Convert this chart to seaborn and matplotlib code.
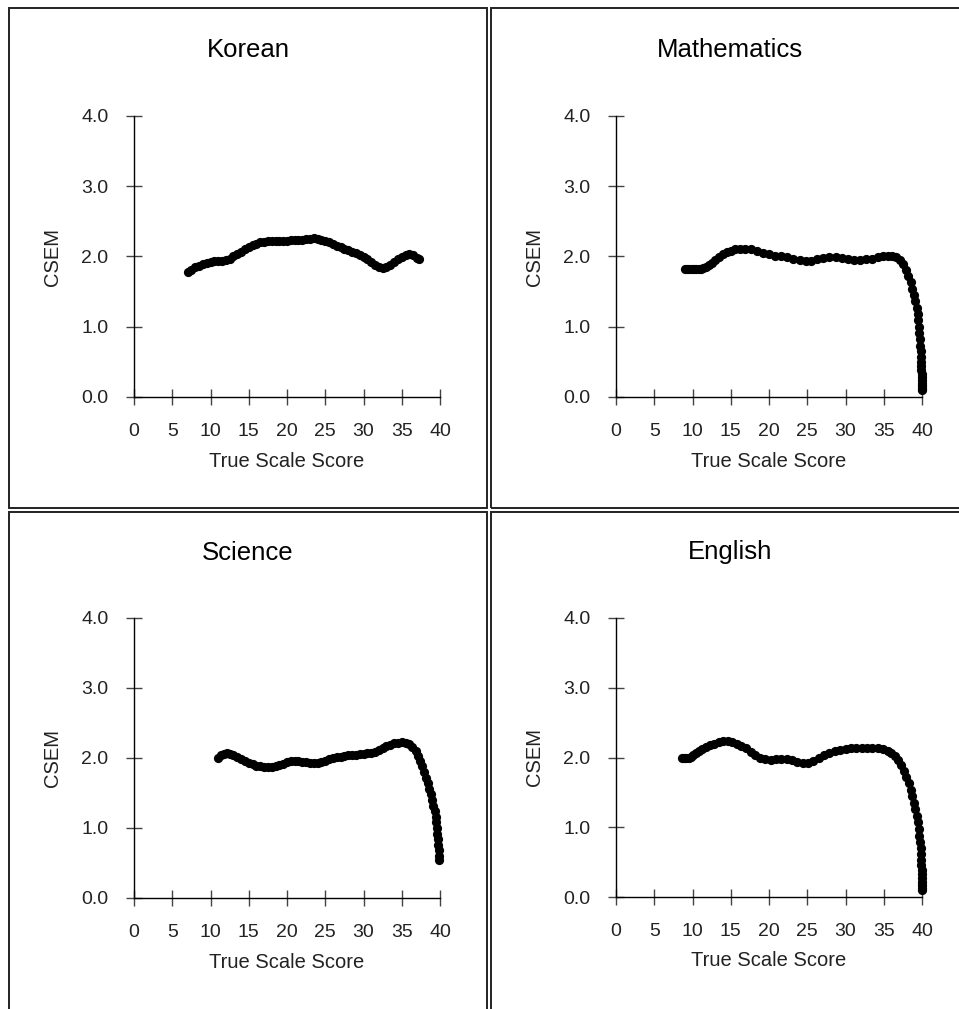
import pandas as pd
import numpy as np
import matplotlib
matplotlib.use("Agg")
import matplotlib.pyplot as plt
from matplotlib.patches import Rectangle
import seaborn as sns

# CSEM curves
korean_x = [7.0, 7.5, 8.0, 8.5, 9.0, 9.5, 10.0, 10.5, 11.0, 11.5, 12.0, 12.5, 13.0, 13.5,
            14.0, 14.5, 15.0, 15.5, 16.0, 16.5, 17.0, 17.5, 18.0, 18.5, 19.0, 19.5, 20.0,
            20.5, 21.0, 21.5, 22.0, 22.5, 23.0, 23.5, 24.0, 24.5, 25.0, 25.5, 26.0, 26.5,
            27.0, 27.5, 28.0, 28.5, 29.0, 29.5, 30.0, 30.5, 31.0, 31.5, 32.0, 32.5, 33.0,
            33.5, 34.0, 34.5, 35.0, 35.5, 36.0, 36.5, 37.0, 37.2]
korean_y = [1.78, 1.81, 1.85, 1.87, 1.89, 1.91, 1.92, 1.93, 1.93, 1.94, 1.95, 1.97, 2.00, 2.03,
            2.07, 2.10, 2.13, 2.16, 2.18, 2.20, 2.21, 2.22, 2.22, 2.22, 2.22, 2.22, 2.22,
            2.23, 2.23, 2.23, 2.24, 2.25, 2.25, 2.26, 2.25, 2.24, 2.22, 2.20, 2.18, 2.15,
            2.13, 2.11, 2.09, 2.07, 2.05, 2.02, 1.99, 1.96, 1.92, 1.88, 1.85, 1.84, 1.85,
            1.88, 1.92, 1.96, 1.99, 2.02, 2.03, 2.02, 1.98, 1.96]

math_x = [9.0, 9.3, 9.6, 9.9, 10.2, 10.5, 10.8, 11.1, 11.4, 11.8, 12.2, 12.6, 13.0, 13.5,
          14.0, 14.5, 15.0, 15.6, 16.2, 16.9, 17.6, 18.4, 19.2, 20.0, 20.8, 21.6, 22.4,
          23.2, 24.0, 24.8, 25.5, 26.3, 27.1, 27.9, 28.7, 29.5, 30.3, 31.1, 31.9, 32.7,
          33.5, 34.2, 34.9, 35.5, 36.1, 36.6, 37.1, 37.5, 37.9, 38.2, 38.5, 38.75, 38.95,
          39.15, 39.3, 39.42, 39.52, 39.6, 39.67, 39.73, 39.78, 39.83, 39.86, 39.89, 39.91,
          39.93, 39.95, 39.96, 39.97, 39.98, 39.985, 39.99, 39.995, 40.0]
math_y = [1.82, 1.82, 1.82, 1.82, 1.82, 1.82, 1.82, 1.82, 1.83, 1.85, 1.88, 1.91, 1.95, 1.99,
          2.03, 2.06, 2.08, 2.10, 2.11, 2.11, 2.10, 2.08, 2.05, 2.03, 2.01, 2.00, 1.99,
          1.97, 1.95, 1.93, 1.94, 1.96, 1.98, 1.99, 1.99, 1.98, 1.96, 1.95, 1.95, 1.96,
          1.97, 1.99, 2.00, 2.01, 2.01, 1.99, 1.95, 1.89, 1.81, 1.72, 1.63, 1.54, 1.45,
          1.36, 1.27, 1.18, 1.09, 1.00, 0.91, 0.82, 0.73, 0.65, 0.57, 0.50, 0.44,
          0.38, 0.33, 0.28, 0.24, 0.20, 0.17, 0.14, 0.12, 0.10]

science_x = [11.0, 11.4, 11.8, 12.2, 12.6, 13.0, 13.5, 14.0, 14.5, 15.0, 15.5, 16.0, 16.5,
             17.0, 17.5, 18.0, 18.5, 19.0, 19.5, 20.0, 20.5, 21.0, 21.5, 22.0, 22.5, 23.0,
             23.5, 24.0, 24.5, 25.0, 25.5, 26.0, 26.5, 27.0, 27.5, 28.0, 28.5, 29.0, 29.5,
             30.0, 30.5, 31.0, 31.5, 32.0, 32.5, 33.0, 33.5, 34.0, 34.5, 35.0, 35.5, 36.0,
             36.4, 36.8, 37.1, 37.4, 37.7, 37.95, 38.2, 38.4, 38.6, 38.8, 39.0, 39.15, 39.3,
             39.42, 39.52, 39.6, 39.67, 39.73, 39.78, 39.82, 39.85, 39.87]
science_y = [2.00, 2.04, 2.06, 2.07, 2.06, 2.04, 2.01, 1.98, 1.96, 1.93, 1.91, 1.89, 1.88,
             1.87, 1.87, 1.87, 1.88, 1.90, 1.92, 1.94, 1.96, 1.96, 1.96, 1.95, 1.94, 1.93,
             1.93, 1.93, 1.94, 1.96, 1.98, 2.00, 2.01, 2.02, 2.03, 2.04, 2.05, 2.05, 2.06,
             2.06, 2.07, 2.07, 2.09, 2.11, 2.14, 2.17, 2.19, 2.21, 2.22, 2.23, 2.22, 2.20,
             2.16, 2.10, 2.03, 1.96, 1.88, 1.80, 1.72, 1.64, 1.56, 1.48, 1.40, 1.32, 1.24,
             1.16, 1.08, 1.00, 0.92, 0.84, 0.76, 0.68, 0.60, 0.54]

english_x = [8.6, 8.9, 9.2, 9.5, 9.8, 10.1, 10.5, 10.9, 11.3, 11.8, 12.3, 12.8, 13.4, 14.0,
             14.6, 15.2, 15.8, 16.4, 17.0, 17.6, 18.2, 18.8, 19.5, 20.2, 20.9, 21.6, 22.3,
             23.0, 23.7, 24.4, 25.1, 25.8, 26.5, 27.2, 27.9, 28.6, 29.3, 30.0, 30.7, 31.4,
             32.1, 32.8, 33.5, 34.2, 34.9, 35.5, 36.0, 36.5, 36.9, 37.3, 37.65, 37.95, 38.25,
             38.5, 38.75, 38.95, 39.15, 39.3, 39.45, 39.57, 39.67, 39.75, 39.81, 39.86, 39.9,
             39.93, 39.95, 39.97, 39.98, 39.99, 39.995, 40.0, 40.0]
english_y = [1.99, 1.99, 1.99, 2.00, 2.01, 2.03, 2.06, 2.09, 2.12, 2.15, 2.18, 2.20, 2.22, 2.23,
             2.23, 2.22, 2.20, 2.17, 2.13, 2.08, 2.04, 2.00, 1.98, 1.97, 1.98, 1.98, 1.98,
             1.96, 1.94, 1.92, 1.92, 1.95, 1.99, 2.04, 2.07, 2.09, 2.11, 2.12, 2.13, 2.13,
             2.14, 2.14, 2.14, 2.13, 2.12, 2.10, 2.07, 2.02, 1.96, 1.89, 1.81, 1.72, 1.63,
             1.54, 1.45, 1.35, 1.26, 1.16, 1.07, 0.97, 0.88, 0.79, 0.70, 0.61, 0.53,
             0.46, 0.39, 0.33, 0.27, 0.22, 0.17, 0.13, 0.10]

subjects = ["Korean", "Mathematics", "Science", "English"]
series = {
    "Korean": (korean_x, korean_y),
    "Mathematics": (math_x, math_y),
    "Science": (science_x, science_y),
    "English": (english_x, english_y),
}
x_ticks = [0, 5, 10, 15, 20, 25, 30, 35, 40]
y_ticks = [0.0, 1.0, 2.0, 3.0, 4.0]

sns.set_style("white")
plt.rcParams['font.family'] = ['Liberation Sans', 'DejaVu Sans']

W, H = 959, 1009
fig = plt.figure(figsize=(W / 100, H / 100), dpi=100)

# axes placement in pixels: (left, y of value 0, y of value 4)
axes_px = {
    "Korean": (134, 397, 116),
    "Mathematics": (616, 397, 116),
    "Science": (134, 898, 618),
    "English": (616, 897, 618),
}
title_px = {
    "Korean": (248, 50),
    "Mathematics": (730, 50),
    "Science": (248, 553),
    "English": (730, 552),
}

for name in subjects:
    left, y0, y4 = axes_px[name]
    ax = fig.add_axes([left / W, 1 - y0 / H, 306 / W, (y0 - y4) / H])
    xs, ys = series[name]
    df = pd.DataFrame({"score": xs, "csem": ys})
    sns.scatterplot(data=df, x="score", y="csem", ax=ax, color="black",
                    s=44, linewidth=0, clip_on=False)
    ax.set_xlim(0, 40)
    ax.set_ylim(0, 4)
    ax.set_xticks(x_ticks)
    ax.set_yticks(y_ticks)
    ax.set_yticklabels([f"{v:.1f}" for v in y_ticks])
    ax.tick_params(bottom=True, left=True, direction="inout", length=11, width=1,
                   color="#444444", labelsize=14, labelcolor="#222222")
    ax.tick_params(axis="x", pad=13)
    ax.tick_params(axis="y", pad=13)
    for side in ["top", "right"]:
        ax.spines[side].set_visible(False)
    for side in ["left", "bottom"]:
        ax.spines[side].set_color("black")
        ax.spines[side].set_linewidth(1)
    ax.set_xlabel("True Scale Score", fontsize=14.5, color="#222222")
    ax.set_ylabel("CSEM", fontsize=14.5, color="#222222")
    ax.xaxis.set_label_coords(0.5, -0.195)
    ax.yaxis.set_label_coords(-0.235, 0.5)
    tx, ty = title_px[name]
    fig.text(tx / W, 1 - ty / H, name, ha="center", va="center", fontsize=18.5, color="black")

# panel frames
frames = [(9, 8, 487, 508), (491, 8, 975, 508), (9, 512, 487, 1025), (491, 512, 975, 1025)]
for x0, t, x1, b in frames:
    fig.add_artist(Rectangle((x0 / W, 1 - b / H), (x1 - x0) / W, (b - t) / H,
                             transform=fig.transFigure, fill=False,
                             edgecolor="#222222", linewidth=1.4))

fig.savefig("out.png", dpi=100, facecolor="white")
